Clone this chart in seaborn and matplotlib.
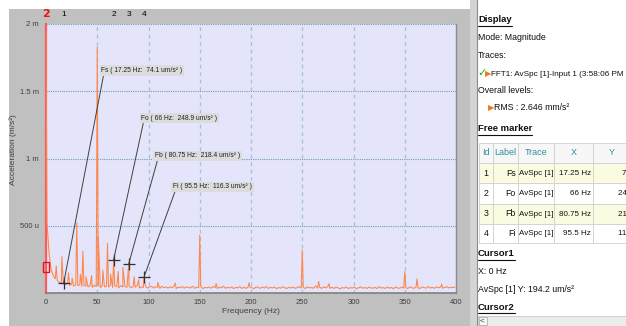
import numpy as np
import pandas as pd
import matplotlib
matplotlib.use("Agg")
import matplotlib.pyplot as plt
import seaborn as sns
from matplotlib.patches import Rectangle
from matplotlib.lines import Line2D

# ---------------------------------------------------------------------------
# DATA (acceleration in um/s^2, frequency in Hz)
# ---------------------------------------------------------------------------
floor_hz = np.arange(1, 400, 2)
floor_um = [
    520, 290, 175, 130, 105, 92, 80, 72, 66, 62, 70, 56, 64, 52, 60, 55, 62, 48, 58, 50,
    46, 55, 42, 58, 47, 52, 40, 57, 45, 50, 44, 60, 41, 53, 47, 38, 55, 44, 49, 42,
    51, 39, 48, 43, 56, 37, 46, 41, 52, 36, 45, 49, 38, 47, 42, 35, 50, 40, 44, 37,
    46, 39, 52, 34, 43, 40, 48, 36, 45, 41, 38, 50, 35, 44, 39, 47, 33, 42, 38, 45,
    36, 48, 40, 34, 44, 38, 51, 35, 42, 37, 46, 33, 41, 39, 47, 34, 43, 36, 40, 45,
    38, 33, 46, 40, 35, 44, 37, 49, 34, 42, 38, 45, 32, 41, 36, 47, 39, 34, 43, 37,
    44, 35, 40, 48, 36, 42, 33, 46, 38, 41, 35, 52, 37, 43, 34, 45, 39, 48, 36, 42,
    34, 44, 38, 31, 41, 36, 45, 33, 40, 37, 43, 32, 39, 46, 35, 41, 34, 44, 38, 36,
    42, 33, 47, 37, 40, 34, 45, 36, 41, 32, 44, 38, 35, 43, 37, 40, 33, 46, 39, 35,
    43, 38, 34, 45, 40, 36, 48, 37, 42, 35, 46, 39, 44, 36, 41, 47, 38, 43, 40, 45,
]
peak_hz = [0.0, 10.0, 15.5, 22.0, 25.5, 30.0, 33.5, 36.0, 39.0, 44.5, 50.0, 51.0,
           55.5, 60.0, 63.0, 66.0, 70.5, 75.0, 80.75, 86.0, 90.5, 95.5, 109.0,
           126.0, 150.0, 166.0, 198.0, 250.0, 266.0, 276.0, 350.0, 362.0, 386.0]
peak_um = [1950, 200, 270, 150, 110, 520, 140, 310, 120, 130, 1830, 420,
           170, 370, 140, 248.9, 160, 190, 218.4, 120, 100, 116.3, 80,
           75, 430, 70, 75, 320, 85, 70, 160, 105, 65]

marker_ids = ["1", "2", "3", "4"]
marker_lbl = ["Fs", "Fo", "Fb", "Fi"]
marker_hz = [17.25, 66.0, 80.75, 95.5]
marker_um = [74.1, 248.9, 218.4, 116.3]
marker_x_txt = ["17.25 Hz", "66 Hz", "80.75 Hz", "95.5 Hz"]
marker_y_txt = ["74.1 um/s²", "248.9 um/s²", "218.4 um/s²", "116.3 um/s²"]
label_pos = [(54, 1.655e-3), (93, 1.30e-3), (106.5, 1.02e-3), (124, 0.79e-3)]

yticks = [0.5e-3, 1e-3, 1.5e-3, 2e-3]
ytick_labels = ["500 u", "1 m", "1.5 m", "2 m"]
xticks = [0, 50, 100, 150, 200, 250, 300, 350, 400]

cursor_hz = 0.0
cursor_um = 194.2

spec = pd.DataFrame({"hz": np.concatenate([floor_hz, peak_hz]),
                     "acc": np.concatenate([floor_um, peak_um]) * 1e-6})
spec = spec.sort_values("hz")

# ---------------------------------------------------------------------------
# FIGURE
# ---------------------------------------------------------------------------
sns.set_style("white")
plt.rcParams["font.family"] = ["Liberation Sans", "DejaVu Sans"]

W, H = 626, 326
fig = plt.figure(figsize=(W / 100, H / 100), dpi=100)
fig.patch.set_facecolor("white")


def fx(x):
    return x / W


def fy(y):
    return 1 - y / H


def frect(x0, y0, x1, y1, **kw):
    kw.setdefault("zorder", 1)
    fig.add_artist(Rectangle((fx(x0), fy(y1)), fx(x1) - fx(x0), fy(y0) - fy(y1),
                             transform=fig.transFigure, **kw))


# gray chart panel and divider
frect(9, 9, 470, 326, fc="#c0c0c0", ec="none", zorder=-10)
frect(470, 0, 477, 326, fc="#d4d4d4", ec="none", zorder=-10)
fig.add_artist(Line2D([fx(476.5)] * 2, [0, 1], transform=fig.transFigure,
                      color="#8c8c8c", lw=0.8, zorder=-9))

ax = fig.add_axes([fx(46), fy(293), fx(456) - fx(46), fy(24) - fy(293)])
ax.set_facecolor("#e4e4fa")

for g in [50, 100, 150, 200, 250, 300, 350]:
    ax.axvline(g, color="#a4c4d4", lw=0.9, dashes=(3, 3), zorder=1)
for g in yticks:
    ax.axhline(g, color="#6f9fb5", lw=0.8, dashes=(1, 1), zorder=1)

sns.lineplot(data=spec, x="hz", y="acc", ax=ax, color="#ff8548", lw=0.75,
             estimator=None, sort=True, zorder=3)

ax.set_xlim(0, 400)
ax.set_ylim(0, 2e-3)
ax.set_xticks(xticks)
ax.set_xticklabels([str(t) for t in xticks])
ax.set_yticks(yticks)
ax.set_yticklabels(ytick_labels)
ax.tick_params(axis="y", length=4, width=0.8, color="#404040", labelsize=5.5,
               labelcolor="#404040", pad=1)
ax.tick_params(axis="x", length=2, width=0.6, color="#808080", labelsize=5.5,
               labelcolor="#404040", pad=2)
ax.set_xlabel("Frequency (Hz)", fontsize=6, color="#404040", labelpad=2)
ax.set_ylabel("")
fig.text(fx(13), fy(150), "Acceleration (m/s²)", rotation=90, fontsize=6,
         color="#404040", ha="center", va="center")

ax.spines["top"].set_visible(False)
ax.spines["left"].set_color("#ff5a5a")
ax.spines["left"].set_linewidth(1.6)
ax.spines["bottom"].set_color("#808080")
ax.spines["bottom"].set_linewidth(1.2)
ax.spines["right"].set_color("#8c8c8c")
ax.spines["right"].set_linewidth(1.0)

# cursor box
ax.add_patch(Rectangle((cursor_hz - 2.9, (cursor_um - 40) * 1e-6), 5.8, 80e-6,
                       fill=False, ec="#ee1111", lw=1.0, clip_on=False, zorder=6))

# top labels
xt = ax.get_xaxis_transform()
ax.text(0, 1.037, "2", transform=xt, color="#ee1111", fontsize=8, fontweight="bold",
        ha="center", va="center", family="DejaVu Sans")
for mid, mh in zip(marker_ids, marker_hz):
    ax.text(mh, 1.037, mid, transform=xt, color="black", fontsize=6,
            ha="center", va="center")

# markers
ax.plot(marker_hz, np.array(marker_um) * 1e-6, "+", ms=9, mew=0.9,
        color="#303030", zorder=5)
for lbl, mh, mu, (tx, ty) in zip(marker_lbl, marker_hz, marker_um, label_pos):
    txt = f"{lbl} ( {mh:g} Hz:  {mu:g} um/s² )"
    ax.annotate(txt, xy=(mh, mu * 1e-6), xytext=(tx, ty), fontsize=4.8,
                color="#202020", ha="left", va="center", zorder=7,
                bbox=dict(boxstyle="square,pad=0.25", fc="#dcdcdc", ec="none"),
                arrowprops=dict(arrowstyle="-", color="#404040", lw=0.7,
                                relpos=(0.03, 0.0), shrinkA=0, shrinkB=0))

# ---------------------------------------------------------------------------
# RIGHT PANEL
# ---------------------------------------------------------------------------
renderer = fig.canvas.get_renderer()


def ptext(x, y, s, bold=False, underline=False, **kw):
    kw.setdefault("fontsize", 6.3)
    kw.setdefault("ha", "left")
    kw.setdefault("color", "#101010")
    kw.setdefault("fontweight", "bold" if bold else "normal")
    t = fig.text(fx(x), fy(y), s, va="center", zorder=3, **kw)
    if underline:
        bb = t.get_window_extent(renderer)
        fig.add_artist(Line2D([fx(bb.x0), fx(bb.x1)], [fy(y + 6)] * 2,
                              transform=fig.transFigure, color="#101010", lw=0.8))
    return t


ptext(478, 20, "Display", bold=True, underline=True, fontsize=6.8)
ptext(478, 38, "Mode: Magnitude")
ptext(478, 56, "Traces:")
ptext(477, 73, "✓", color="#22aa22", fontsize=8, family="DejaVu Sans", fontweight="bold")
ptext(485, 74, "▶", color="#f07a20", fontsize=6, family="DejaVu Sans")
ptext(491, 74, "FFT1: AvSpc [1]-Input 1 (3:58:06 PM 06/04/2014)", fontsize=5.9)
ptext(478, 91, "Overall levels:")
ptext(488, 108, "▶", color="#f07a20", fontsize=6, family="DejaVu Sans")
ptext(494, 108, "RMS : 2.646 mm/s²")
ptext(478, 129, "Free marker", bold=True, underline=True, fontsize=6.8)

cols = [479, 493, 518, 554, 593, 680]
rows = [143, 163, 183, 204, 224, 243]
headers = ["Id", "Label", "Trace", "X", "Y"]
for r in range(5):
    fc = "#f7f7f7" if r == 0 else ("#fbfbe2" if r % 2 == 1 else "white")
    for c in range(5):
        frect(cols[c], rows[r], cols[c + 1], rows[r + 1], fc=fc, ec="#d0d0d0", lw=0.6)
for c, h in enumerate(headers):
    ptext((cols[c] + cols[c + 1]) / 2 if c < 4 else 612, (rows[0] + rows[1]) / 2, h,
          ha="center", color="#2f8f9f", fontsize=6.5)
for i in range(4):
    yc = (rows[i + 1] + rows[i + 2]) / 2
    ptext((cols[0] + cols[1]) / 2, yc, marker_ids[i], ha="center")
    ptext(cols[2] - 2, yc, marker_lbl[i], ha="right")
    ptext(cols[2] + 1, yc, "AvSpc [1]", fontsize=5.8)
    ptext(cols[4] - 2, yc, marker_x_txt[i], ha="right", fontsize=5.8)
    ptext(cols[5] - 20, yc, marker_y_txt[i], ha="right", fontsize=5.8)

ptext(478, 254, "Cursor1", bold=True, underline=True, fontsize=6.8)
ptext(478, 272, "X: 0 Hz")
ptext(478, 290, "AvSpc [1] Y: 194.2 um/s²")
ptext(478, 307, "Cursor2", bold=True, underline=True, fontsize=6.8)

frect(478, 316, 626, 326, fc="#ececec", ec="#c8c8c8", lw=0.6)
frect(479, 317, 487, 325, fc="#f8f8f8", ec="#b0b0b0", lw=0.6)
ptext(480, 321, "<", fontsize=6, color="#404040")

fig.savefig("out.png", dpi=100)
